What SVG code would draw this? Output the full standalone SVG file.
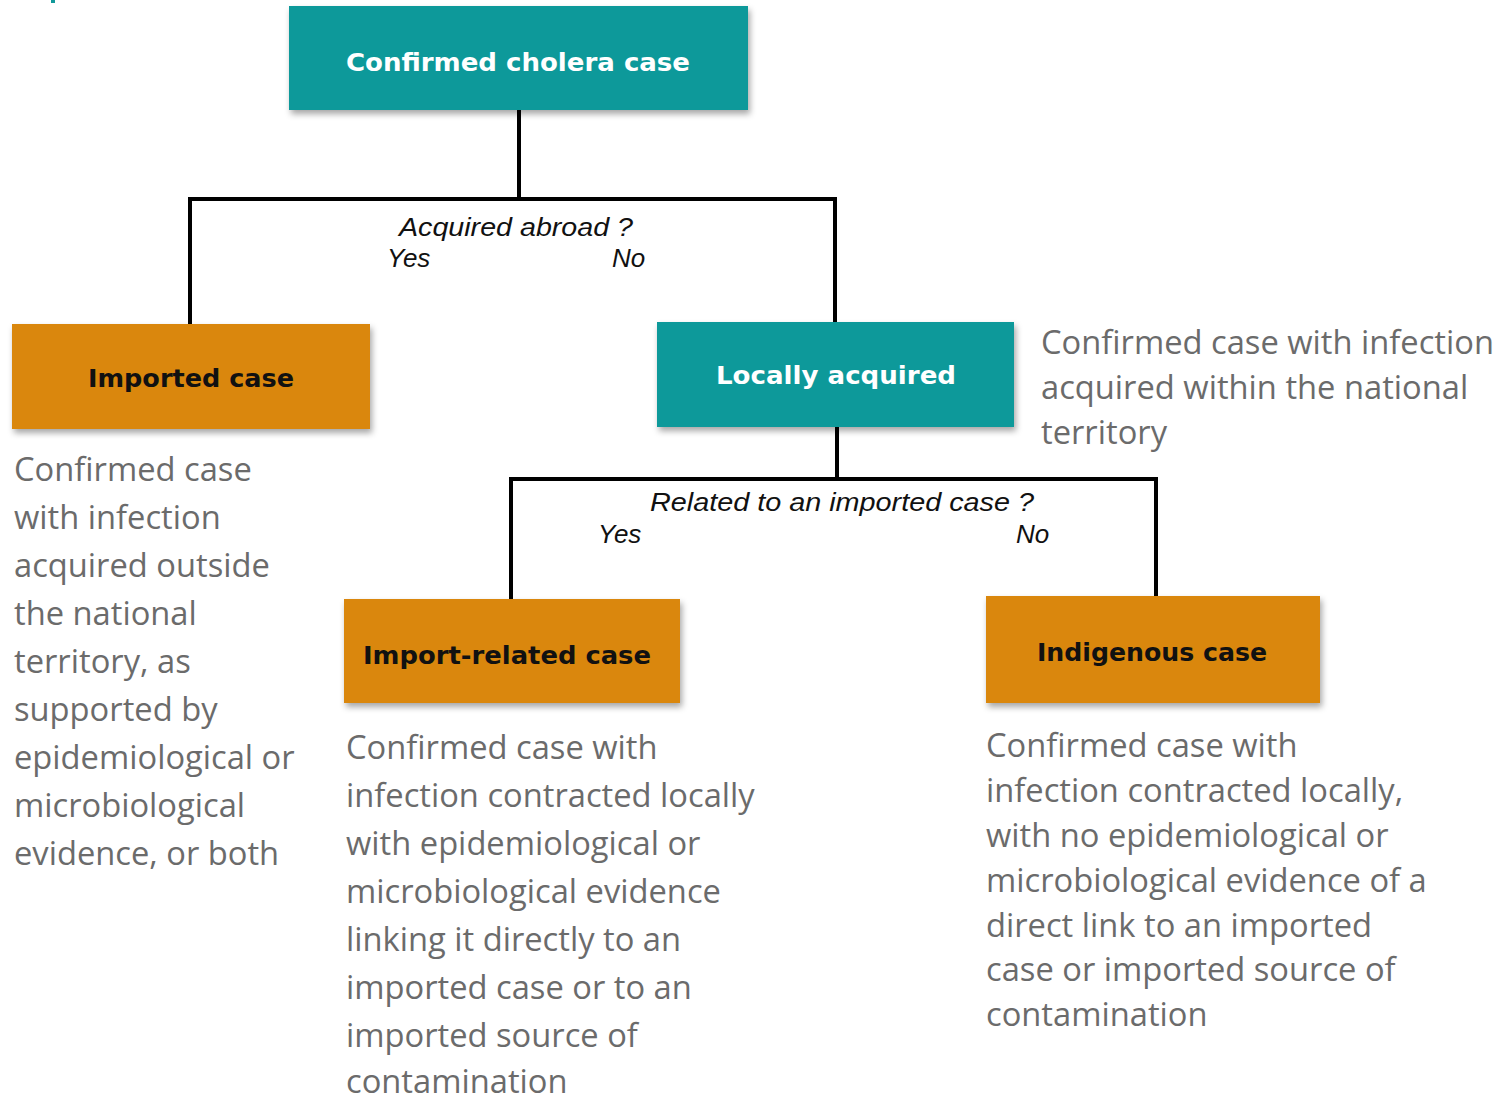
<svg xmlns="http://www.w3.org/2000/svg" width="1496" height="1096" viewBox="0 0 1496 1096">
<defs>
<filter id="sh" x="-10%" y="-20%" width="125%" height="150%">
<feDropShadow dx="2" dy="4" stdDeviation="3" flood-color="#000" flood-opacity="0.35"/>
</filter>
</defs>
<style>
.teal{fill:#11999A;filter:url(#sh)}
.orange{fill:#DA870F;filter:url(#sh)}
.bl{font-family:"DejaVu Sans",Verdana,sans-serif;font-weight:bold;font-size:25px;text-anchor:middle}
.w{fill:#fff}
.k{fill:#111}
.q{font-family:"Liberation Sans",Arial,sans-serif;font-style:italic;font-size:26px;fill:#111}
.d{font-family:"Open Sans","Liberation Sans",sans-serif;font-size:32.7px;fill:#6b6b6b}
.c{fill:none;stroke:#000;stroke-width:4}
</style>
<rect x="51" y="0" width="4" height="3" fill="#11999A"/>
<g id="connectors">
<path class="c" d="M519 110V199M190 324V199H835V322"/>
<path class="c" d="M837 427V479M511 599V479H1156V596"/>
<text class="q" x="399" y="236" textLength="234" lengthAdjust="spacingAndGlyphs">Acquired abroad ?</text>
<text class="q" x="387" y="267">Yes</text>
<text class="q" x="612" y="267">No</text>
<text class="q" x="650" y="511" textLength="384" lengthAdjust="spacingAndGlyphs">Related to an imported case ?</text>
<text class="q" x="598" y="543">Yes</text>
<text class="q" x="1016" y="543">No</text>
</g>
<g id="n-confirmed">
<rect class="teal" x="289" y="6" width="459" height="104"/>
<text class="bl w" x="518" y="71" textLength="344" lengthAdjust="spacingAndGlyphs">Confirmed cholera case</text>
</g>
<g id="n-imported">
<rect class="orange" x="12" y="324" width="358" height="105"/>
<text class="bl k" x="191" y="387" textLength="206" lengthAdjust="spacingAndGlyphs">Imported case</text>
<text class="d" x="14"><tspan x="14" y="481">Confirmed case</tspan><tspan x="14" y="529">with infection</tspan><tspan x="14" y="577">acquired outside</tspan><tspan x="14" y="625">the national</tspan><tspan x="14" y="673">territory, as</tspan><tspan x="14" y="721">supported by</tspan><tspan x="14" y="769">epidemiological or</tspan><tspan x="14" y="817">microbiological</tspan><tspan x="14" y="865">evidence, or both</tspan></text>
</g>
<g id="n-local">
<rect class="teal" x="657" y="322" width="357" height="105"/>
<text class="bl w" x="836" y="384" textLength="240" lengthAdjust="spacingAndGlyphs">Locally acquired</text>
<text class="d"><tspan x="1041" y="354">Confirmed case with infection</tspan><tspan x="1041" y="399">acquired within the national</tspan><tspan x="1041" y="444">territory</tspan></text>
</g>
<g id="n-importrelated">
<rect class="orange" x="344" y="599" width="336" height="104"/>
<text class="bl k" x="507" y="664" textLength="288" lengthAdjust="spacingAndGlyphs">Import-related case</text>
<text class="d"><tspan x="346" y="759">Confirmed case with</tspan><tspan x="346" y="807">infection contracted locally</tspan><tspan x="346" y="855">with epidemiological or</tspan><tspan x="346" y="903">microbiological evidence</tspan><tspan x="346" y="951">linking it directly to an</tspan><tspan x="346" y="999">imported case or to an</tspan><tspan x="346" y="1047">imported source of</tspan><tspan x="346" y="1093">contamination</tspan></text>
</g>
<g id="n-indigenous">
<rect class="orange" x="986" y="596" width="334" height="107"/>
<text class="bl k" x="1152" y="661" textLength="230" lengthAdjust="spacingAndGlyphs">Indigenous case</text>
<text class="d"><tspan x="986" y="757">Confirmed case with</tspan><tspan x="986" y="802">infection contracted locally,</tspan><tspan x="986" y="847">with no epidemiological or</tspan><tspan x="986" y="892">microbiological evidence of a</tspan><tspan x="986" y="937">direct link to an imported</tspan><tspan x="986" y="981">case or imported source of</tspan><tspan x="986" y="1026">contamination</tspan></text>
</g>
</svg>
